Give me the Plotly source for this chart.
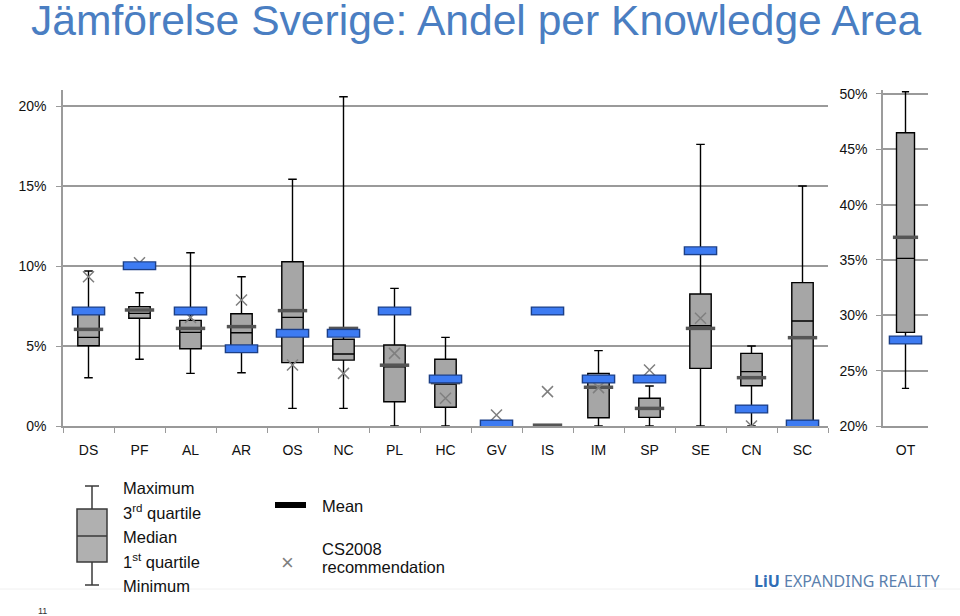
import plotly.graph_objects as go

# ---------------- data (percent) ----------------
cats = ["DS", "PF", "AL", "AR", "OS", "NC", "PL", "HC", "GV", "IS", "IM", "SP", "SE", "CN", "SC"]
q_min = [3.02, 4.17, 3.29, 3.33, 1.10, 1.10, 0.0, 0.0, 0.0, 0.0, 0.0, 0.0, 0.0, 0.0, 0.0]
q1 = [5.02, 6.73, 4.83, 4.95, 3.96, 4.12, 1.52, 1.17, 0.0, 0.0, 0.52, 0.54, 3.60, 2.52, 0.10]
median = [5.54, 7.04, 5.85, 5.83, 6.79, 4.50, 3.70, 2.60, 0.0, 0.0, 2.40, 1.10, 6.27, 3.40, 6.56]
q3 = [7.04, 7.46, 6.60, 7.02, 10.27, 5.42, 5.06, 4.17, 0.0, 0.0, 3.29, 1.73, 8.25, 4.54, 8.96]
q_max = [9.69, 8.33, 10.83, 9.33, 15.42, 20.58, 8.60, 5.54, 0.0, 0.0, 4.71, 2.50, 17.60, 5.00, 15.00]
mean = [6.04, 7.25, 6.10, 6.21, 7.21, 6.10, 3.80, 2.71, 0.0, 0.05, 2.42, 1.10, 6.10, 3.02, 5.52]
sweden = [7.19, 10.02, 7.19, 4.83, 5.79, 5.79, 7.19, 2.94, 0.12, 7.19, 2.94, 2.94, 10.96, 1.06, 0.12]
cs2008 = [9.33, 10.20, 6.79, 7.88, 3.81, 3.29, 4.54, 1.73, 0.69, 2.15, 2.40, 3.50, 6.73, 0.0, None]

ot_cat = ["OT"]
ot_min = [23.4]
ot_q1 = [28.46]
ot_median = [35.15]
ot_q3 = [46.5]
ot_max = [50.2]
ot_mean = [37.05]
ot_sweden = [27.77]

main_ticks = [0, 5, 10, 15, 20]
ot_ticks = [20, 25, 30, 35, 40, 45, 50]

# ---------------- styling ----------------
W, H = 960, 616
FONT = "Liberation Sans, Arial, sans-serif"
GRID = "#9a9a9a"
BOX_FILL = "#a6a6a6"
BLUE = "#3d7bf2"
BLUE_EDGE = "#1c3f86"
MEAN_C = "#555555"
X_C = "#7f7f7f"


def px(x):
    return x / W


def py(y):
    return 1 - y / H


fig = go.Figure()


def add_panel(xs, lo, a, m, b, hi, mn, sw, rec, xa, ya, bw, mw):
    fig.add_trace(go.Box(
        x=xs, q1=a, median=m, q3=b, lowerfence=lo, upperfence=hi,
        fillcolor=BOX_FILL, line=dict(color="black", width=1.4),
        width=bw, whiskerwidth=0.4, boxpoints=False, hoverinfo="skip",
        xaxis=xa, yaxis=ya, showlegend=False))
    fig.add_trace(go.Scatter(
        x=xs, y=mn, mode="markers", xaxis=xa, yaxis=ya, showlegend=False,
        marker=dict(symbol="line-ew", size=mw, line=dict(width=3.5, color=MEAN_C))))
    if rec is not None:
        fig.add_trace(go.Scatter(
            x=xs, y=rec, mode="markers", xaxis=xa, yaxis=ya, showlegend=False,
            marker=dict(symbol="x-thin", size=11, line=dict(width=1.5, color=X_C))))
    fig.add_trace(go.Scatter(
        x=xs, y=sw, mode="markers", xaxis=xa, yaxis=ya, showlegend=False,
        marker=dict(symbol="line-ew", size=24, line=dict(width=9, color=BLUE_EDGE))))
    fig.add_trace(go.Scatter(
        x=xs, y=sw, mode="markers", xaxis=xa, yaxis=ya, showlegend=False,
        marker=dict(symbol="line-ew", size=22, line=dict(width=6.5, color=BLUE))))


add_panel(cats, q_min, q1, median, q3, q_max, mean, sweden, cs2008, "x", "y", 0.42, 21)
add_panel(ot_cat, ot_min, ot_q1, ot_median, ot_q3, ot_max, ot_mean, ot_sweden, None, "x2", "y2", 0.4, 18)

ydom = [py(426), py(90)]
axis_common = dict(showline=True, linewidth=1.5, tickcolor=GRID, mirror=False,
                   automargin=False,
                   tickfont=dict(family=FONT, size=14, color="#111"), zeroline=False)

fig.update_layout(
    template="none",
    width=W, height=H, margin=dict(l=0, r=0, t=0, b=0, pad=0, autoexpand=False),
    paper_bgcolor="white", plot_bgcolor="white",
    font=dict(family=FONT, color="#111"),
    xaxis=dict(domain=[px(63), px(828)], anchor="y", type="category", linecolor="#999999",
               categoryorder="array", categoryarray=cats, range=[-0.5, len(cats) - 0.5],
               ticks="outside", tickson="boundaries", ticklen=5, ticklabelstandoff=10,
               showgrid=False, **axis_common),
    yaxis=dict(domain=ydom, anchor="x", range=[0, 21], tickvals=main_ticks, linecolor="#9b9b9b",
               ticktext=[f"{v}%" for v in main_ticks], ticks="outside", ticklen=5,
               ticklabelstandoff=7,
               showgrid=True, gridcolor=GRID, gridwidth=1.5, **axis_common),
    xaxis2=dict(domain=[px(883), px(928)], anchor="y2", type="category", linecolor="#989898",
                range=[-0.5, 0.5], ticks="inside", tickson="boundaries", ticklen=8,
                ticklabelstandoff=10, showgrid=False, **axis_common),
    yaxis2=dict(domain=ydom, anchor="x2", range=[20, 50.36], tickvals=ot_ticks, linecolor="#9c9c9c",
                ticktext=[f"{v}%" for v in ot_ticks], ticks="outside", ticklen=5,
                ticklabelstandoff=6,
                showgrid=True, gridcolor=GRID, gridwidth=1.5, **axis_common),
)

shapes = []
annotations = []

# title
annotations.append(dict(x=px(29), y=py(20), xref="paper", yref="paper", xanchor="left",
                        yanchor="middle", showarrow=False,
                        text="Jämförelse Sverige: Andel per Knowledge Area",
                        font=dict(family=FONT, size=42.6, color="#4a7ec2")))

# legend: box glyph
LC = "#3a3a3a"
shapes += [
    dict(type="line", xref="paper", yref="paper", x0=px(92), x1=px(92), y0=py(486), y1=py(509),
         line=dict(color=LC, width=1.5)),
    dict(type="line", xref="paper", yref="paper", x0=px(92), x1=px(92), y0=py(562), y1=py(585),
         line=dict(color=LC, width=1.5)),
    dict(type="line", xref="paper", yref="paper", x0=px(85), x1=px(99), y0=py(486), y1=py(486),
         line=dict(color=LC, width=1.5)),
    dict(type="line", xref="paper", yref="paper", x0=px(85), x1=px(99), y0=py(585), y1=py(585),
         line=dict(color=LC, width=1.5)),
    dict(type="rect", xref="paper", yref="paper", x0=px(77), x1=px(107), y0=py(562), y1=py(509),
         fillcolor="#b0b0b0", line=dict(color=LC, width=1.5)),
    dict(type="line", xref="paper", yref="paper", x0=px(77), x1=px(107), y0=py(536), y1=py(536),
         line=dict(color=LC, width=1.5)),
    dict(type="line", xref="paper", yref="paper", x0=px(275), x1=px(306), y0=py(505), y1=py(505),
         line=dict(color="black", width=6)),
    dict(type="line", xref="paper", yref="paper", x0=0, x1=1, y0=py(589), y1=py(589),
         line=dict(color="#f0f0f0", width=1)),
]

leg_font = dict(family=FONT, size=16.5, color="#111")
for txt, yy in [("Maximum", 488), ("3<sup>rd</sup> quartile", 512), ("Median", 537),
                ("1<sup>st</sup> quartile", 561), ("Minimum", 586)]:
    annotations.append(dict(x=px(121), y=py(yy), xref="paper", yref="paper", xanchor="left",
                            yanchor="middle", showarrow=False, text=txt, font=leg_font))
annotations.append(dict(x=px(320), y=py(506), xref="paper", yref="paper", xanchor="left",
                        yanchor="middle", showarrow=False, text="Mean", font=leg_font))
annotations.append(dict(x=px(320), y=py(549), xref="paper", yref="paper", xanchor="left",
                        yanchor="middle", showarrow=False, text="CS2008", font=leg_font))
annotations.append(dict(x=px(320), y=py(567), xref="paper", yref="paper", xanchor="left",
                        yanchor="middle", showarrow=False, text="recommendation", font=leg_font))
annotations.append(dict(x=px(287), y=py(562), xref="paper", yref="paper", xanchor="center",
                        yanchor="middle", showarrow=False, text="×",
                        font=dict(family=FONT, size=22, color=X_C)))

annotations.append(dict(x=px(752), y=py(581), xref="paper", yref="paper", xanchor="left",
                        yanchor="middle", showarrow=False,
                        text="<b>LiU</b> <span style='color:#5b7fad'>EXPANDING REALITY</span>",
                        font=dict(family="Noto Sans, sans-serif", size=16, color="#2f6db5")))
annotations.append(dict(x=px(42), y=py(611), xref="paper", yref="paper", xanchor="center",
                        yanchor="middle", showarrow=False, text="11",
                        font=dict(family=FONT, size=9, color="#333")))

fig.update_layout(shapes=shapes, annotations=annotations)
fig.write_html("out.html", config={"displayModeBar": False},
               post_script="document.body.style.margin='0px';")
